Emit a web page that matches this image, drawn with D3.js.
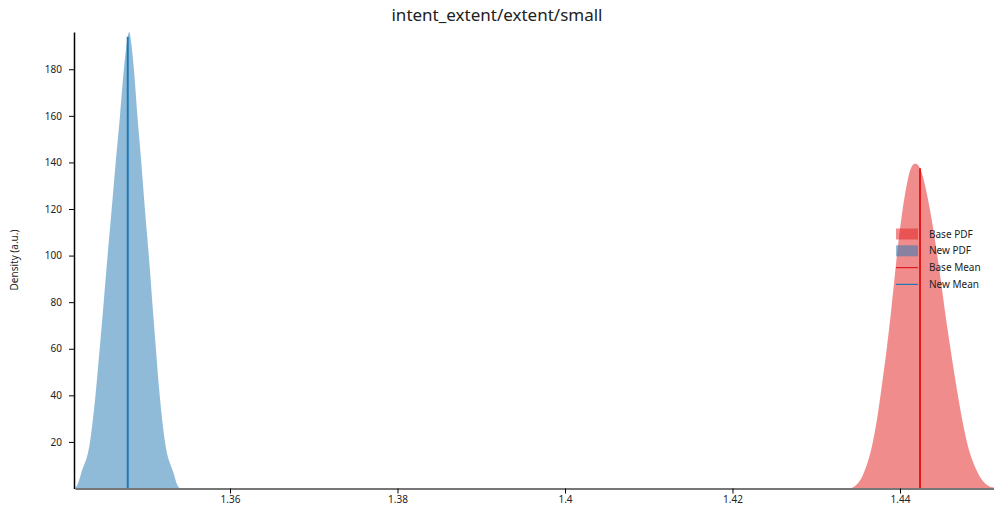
<!DOCTYPE html>
<html lang="en">
<head>
  <meta charset="UTF-8">
  <title>intent_extent/extent/small</title>
  <script src="https://d3js.org/d3.v7.min.js"></script>
  <style>
    body { margin: 0; background: white; }
    text { font-family: "Noto Sans", "Open Sans", sans-serif; fill: #222; }
  </style>
</head>
<body>
  <svg id="chart" width="994" height="510"></svg>
  <script>
    // densities
    const newX = [1.341493, 1.341767, 1.342233, 1.343284, 1.343940, 1.344442, 1.344919, 1.345385, 1.345875,
      1.346352, 1.346866, 1.347331, 1.347630, 1.347964, 1.348251, 1.348525, 1.348943, 1.349409,
      1.349839, 1.350304, 1.350722, 1.351152, 1.351606, 1.352239, 1.353266, 1.353707, 1.354101];
    const newY = [0.3, 1.5, 6.6, 20, 40, 60, 80, 100, 120,
      140, 160, 180, 190, 196, 190, 180, 160, 140,
      120, 100, 80, 60, 40, 20, 6.6, 1.5, 0];
    const baseX = [1.433910, 1.434507, 1.435140, 1.435893, 1.436597, 1.437337, 1.437899, 1.438424, 1.438866,
      1.439284, 1.439701, 1.440191, 1.440836, 1.441230, 1.441815, 1.442472, 1.442937, 1.443725,
      1.444358, 1.444919, 1.445457, 1.446018, 1.446639, 1.447319, 1.448179, 1.449027, 1.449946,
      1.450746, 1.451224];
    const baseY = [0, 0.8, 3, 8.7, 17.3, 31.6, 45.9, 60.2, 73.8,
      88.1, 102.4, 116.7, 131, 136.8, 139.5, 136.8, 131, 116.7,
      102.4, 88.1, 73.8, 60.2, 45.9, 31.6, 17.3, 8.7, 3,
      0.8, 0.4];
    const newMean = 1.34779, newMeanY = 194;
    const baseMean = 1.44239, baseMeanY = 137.5;
    const xTicks = [1.36, 1.38, 1.40, 1.42, 1.44];
    const yTicks = [20, 40, 60, 80, 100, 120, 140, 160, 180];
    const legendItems = ["Base PDF", "New PDF", "Base Mean", "New Mean"];

    const svg = d3.select("#chart");
    const blue = "#1f78b4", red = "#e31a1c";

    const x = d3.scaleLinear().domain([1.341493, 1.451224]).range([75, 994]);
    const y = d3.scaleLinear().domain([0, 196]).range([488.5, 32]);

    const area = d3.area()
      .x(d => x(d[0])).y0(y(0)).y1(d => y(d[1]))
      .curve(d3.curveMonotoneX);

    svg.append("path").datum(d3.zip(newX, newY))
      .attr("d", area).attr("fill", blue).attr("fill-opacity", 0.5);
    svg.append("path").datum(d3.zip(baseX, baseY))
      .attr("d", area).attr("fill", red).attr("fill-opacity", 0.5);

    svg.append("line")
      .attr("x1", x(newMean)).attr("x2", x(newMean))
      .attr("y1", y(0)).attr("y2", y(newMeanY))
      .attr("stroke", blue).attr("stroke-width", 2);
    svg.append("line")
      .attr("x1", x(baseMean)).attr("x2", x(baseMean))
      .attr("y1", y(0)).attr("y2", y(baseMeanY))
      .attr("stroke", red).attr("stroke-width", 2);

    // axes
    const xAxis = svg.append("g").attr("transform", "translate(0,488.5)")
      .call(d3.axisBottom(x).tickValues(xTicks).tickSize(5).tickSizeOuter(0)
        .tickFormat(d => d3.format(".2f")(d).replace(/0$/, "")));
    xAxis.select(".domain").attr("stroke", "#777").attr("stroke-width", 2);
    xAxis.selectAll("text").attr("font-size", 10).attr("y", 7).attr("dy", "0.71em");

    const yAxis = svg.append("g").attr("transform", "translate(74,0)")
      .call(d3.axisLeft(y).tickValues(yTicks).tickSize(5).tickSizeOuter(0));
    yAxis.select(".domain").attr("stroke", "#000").attr("stroke-width", 1.5);
    yAxis.selectAll("text").attr("font-size", 10).attr("dx", "-0.4em");
    svg.selectAll(".tick text").attr("font-family", "Noto Sans").attr("fill", "#222");

    svg.append("text").attr("x", 497).attr("y", 21)
      .attr("text-anchor", "middle").attr("font-size", 17).text("intent_extent/extent/small");

    svg.append("text").attr("transform", "translate(18,260) rotate(-90)")
      .attr("text-anchor", "middle").attr("font-size", 10).text("Density (a.u.)");

    // legend
    const lg = svg.append("g").attr("transform", "translate(896,0)");
    legendItems.forEach((name, i) => {
      const cy = 234 + i * 16.8;
      if (i < 2) {
        lg.append("rect").attr("x", 0).attr("y", cy - 5.5).attr("width", 22).attr("height", 11)
          .attr("fill", i === 0 ? red : blue).attr("fill-opacity", 0.5);
      } else {
        lg.append("line").attr("x1", 0).attr("x2", 22).attr("y1", cy).attr("y2", cy)
          .attr("stroke", i === 2 ? red : blue).attr("stroke-width", 1.2);
      }
      lg.append("text").attr("x", 33).attr("y", cy + 3.5).attr("font-size", 10).text(name);
    });
  </script>
</body>
</html>
